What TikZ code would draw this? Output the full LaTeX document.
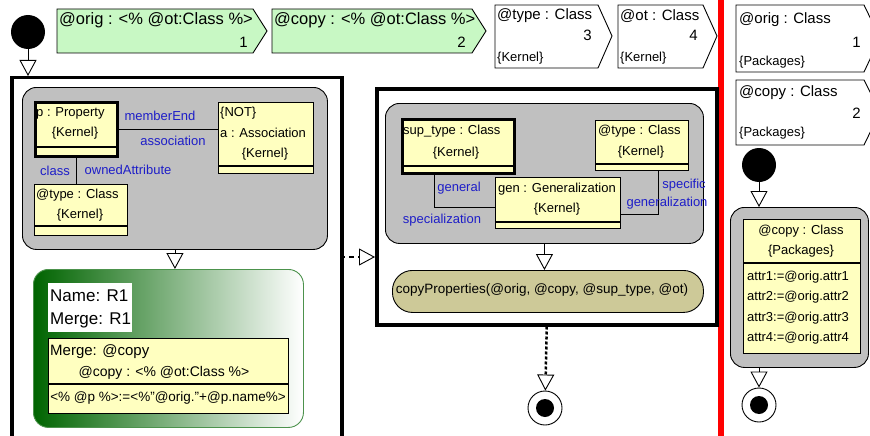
\documentclass[tikz,border=0pt]{standalone}
\usepackage{fontspec}
\setmainfont{Liberation Sans}
\usetikzlibrary{arrows.meta,positioning}
\definecolor{pingreen}{RGB}{200,248,196}
\definecolor{classyellow}{RGB}{255,255,192}
\definecolor{regiongray}{RGB}{192,192,192}
\definecolor{opolive}{RGB}{205,201,152}
\definecolor{linkblue}{RGB}{30,30,200}
\definecolor{rulegreen}{RGB}{0,100,0}
\begin{document}
\begin{tikzpicture}[x=1pt,y=-1pt,
    every node/.style={inner sep=0},
    big/.style={font=\fontsize{15}{15}\selectfont},
    txt/.style={font=\fontsize{13}{13}\selectfont},
    lbl/.style={font=\fontsize{13}{13}\selectfont,text=linkblue},
    frame/.style={draw,line width=3.5,anchor=north west},
    region/.style={draw,fill=regiongray,rounded corners=14,line width=0.9,anchor=north west},
    classbox/.style={draw,fill=classyellow,line width=0.9,anchor=north west},
    bound/.style={classbox,line width=3},
    pin/.style={draw,line width=0.9},
    initial/.style={circle,fill=black,minimum size=34},
    finalring/.style={circle,draw,fill=white,line width=0.9,minimum size=34},
    finaldot/.style={circle,fill=black,minimum size=18},
    flow/.style={-{Triangle[open,length=16,width=17,line width=0.9]},line width=0.9}]
  \useasboundingbox (0,0) rectangle (870,436);

  % parameter pins
  \draw[pin,fill=pingreen] (57,9) -- (253,9) -- (267,31) -- (253,53) -- (57,53) -- cycle;
  \draw[pin,fill=pingreen] (272,9) -- (472,9) -- (486,31) -- (472,53) -- (272,53) -- cycle;
  \draw[pin,fill=white] (495,5) -- (598,5) -- (612,36) -- (598,68) -- (495,68) -- cycle;
  \draw[pin,fill=white] (618,5) -- (703,5) -- (717,36) -- (703,68) -- (618,68) -- cycle;
  \draw[pin,fill=white] (736,5) -- (864,5) -- (880,38) -- (864,72) -- (736,72) -- cycle;
  \draw[pin,fill=white] (736,80) -- (864,80) -- (880,112) -- (864,145) -- (736,145) -- cycle;
  \draw[big]
    (59,20) node[anchor=west,font=\fontsize{16.5}{16.5}\selectfont] (origpin) {@orig : <\% @ot:Class \%>}
    (248,42) node[anchor=east] (orignum) {1}
    (274,20) node[anchor=west,font=\fontsize{16.5}{16.5}\selectfont] (copypin) {@copy : <\% @ot:Class \%>}
    (466,42) node[anchor=east] (copynum) {2}
    (497,16) node[anchor=west] (typepin) {@type : Class}
    (592,35) node[anchor=east] (typenum) {3}
    (620,16) node[anchor=west] (otpin) {@ot : Class}
    (698,35) node[anchor=east] (otnum) {4}
    (739,20) node[anchor=west] (origout) {@orig : Class}
    (861,42) node[anchor=east] (origoutnum) {1}
    (739,93) node[anchor=west] (copyout) {@copy : Class}
    (861,113) node[anchor=east] (copyoutnum) {2};
  \draw[txt]
    (497,58) node[anchor=west] (typepinkernel) {\{Kernel\}}
    (620,58) node[anchor=west] (otpinkernel) {\{Kernel\}}
    (739,62) node[anchor=west] (origoutpkg) {\{Packages\}}
    (739,133) node[anchor=west] (copyoutpkg) {\{Packages\}};

  % red separator
  \fill[red] (718,0) rectangle (724,436);

  % left activity: match
  \node[initial] (start) at (28,32) {};
  \node[frame,minimum width=330,minimum height=380] (leftact) at (10,76) {};
  \draw[flow] (start) -- (start |- leftact.north);
  \node[region,minimum width=305,minimum height=162] (lhs) at (22,87) {};
  \node[bound,minimum width=82,minimum height=54] (prop) at (34,101) {};
  \node[classbox,minimum width=95,minimum height=71] (assoc) at (218,102) {};
  \node[classbox,minimum width=93,minimum height=51] (typeA) at (34,184) {};
  \draw[line width=1.2] (prop.west |- 0,147) -- (prop.east |- 0,147);
  \draw[line width=1.2] (assoc.west |- 0,166) -- (assoc.east |- 0,166);
  \draw[line width=1.2] (typeA.west |- 0,226) -- (typeA.east |- 0,226);
  \draw[txt]
    (36,113) node[anchor=west] (propname) {p : Property}
    (75,133) node (propkernel) {\{Kernel\}}
    (220,113) node[anchor=west] (assocnot) {\{NOT\}}
    (220,133) node[anchor=west] (assocname) {a : Association}
    (265,154) node (assockernel) {\{Kernel\}}
    (36,195) node[anchor=west] (typeAname) {@type : Class}
    (80,215) node (typeAkernel) {\{Kernel\}};
  \draw[line width=0.9] (prop.east) -- (prop.east -| assoc.west);
  \draw[line width=0.9] (prop.south) -- (prop.south |- typeA.north);
  \draw[lbl]
    (160,116) node (memberend) {memberEnd}
    (173,141) node (association) {association}
    (55,171) node (classlbl) {class}
    (128,170) node (ownedattr) {ownedAttribute};

  % rule
  \node[draw=rulegreen!70,line width=0.9,rounded corners=15,left color=rulegreen,right color=white,
    anchor=north west,minimum width=270,minimum height=158] (rule) at (33,269) {};
  \draw[flow] (lhs.south) -- (lhs.south |- rule.north);
  \node[fill=white,anchor=north west,minimum width=84,minimum height=49] (rulename) at (48,283) {};
  \node[classbox,minimum width=240,minimum height=75] (mergebox) at (48,338) {};
  \draw[line width=1.2] (mergebox.west |- 0,384) -- (mergebox.east |- 0,384);
  \draw[font=\fontsize{17}{17}\selectfont]
    (50,296) node[anchor=west] (namelbl) {Name: R1}
    (50,320) node[anchor=west] (mergelbl) {Merge: R1};
  \draw
    (50,352) node[anchor=west,font=\fontsize{15}{15}\selectfont] (mergeobj) {Merge: @copy}
    (164,373) node[font=\fontsize{14}{14}\selectfont] (mergetype) {@copy : <\% @ot:Class \%>}
    (168,398) node[font=\fontsize{13.5}{13.5}\selectfont] (mergeattr) {<\% @p \%>:=<\%"@orig."+@p.name\%>};

  % left to middle
  \coordinate (seq) at (340,257);
  \node[frame,minimum width=340,minimum height=236] (midact) at (375,87) {};
  \draw[flow,line width=2,dash pattern=on 5pt off 4pt] (seq) -- (seq -| midact.west);

  % middle activity: specialization
  \node[region,minimum width=318,minimum height=140] (rhs) at (385,103) {};
  \node[bound,minimum width=112,minimum height=54] (suptype) at (401,118) {};
  \node[classbox,minimum width=93,minimum height=50] (typeB) at (595,120) {};
  \node[classbox,minimum width=125,minimum height=51] (gen) at (495,177) {};
  \draw[line width=1.2] (suptype.west |- 0,166) -- (suptype.east |- 0,166);
  \draw[line width=1.2] (typeB.west |- 0,164) -- (typeB.east |- 0,164);
  \draw[line width=1.2] (gen.west |- 0,222) -- (gen.east |- 0,222);
  \draw[txt]
    (403,131) node[anchor=west] (supname) {sup\_type : Class}
    (456,153) node (supkernel) {\{Kernel\}}
    (598,131) node[anchor=west] (typeBname) {@type : Class}
    (641,152) node (typeBkernel) {\{Kernel\}}
    (498,189) node[anchor=west] (genname) {gen : Generalization}
    (557,209) node (genkernel) {\{Kernel\}};
  \draw[line width=0.9] ([xshift=-24]suptype.south) |- ([yshift=-4.5]gen.west);
  \draw[line width=0.9] ([xshift=16]typeB.south) |- ([yshift=-11.5]gen.east);
  \draw[lbl]
    (459,188) node (generallbl) {general}
    (442,220) node (speclbl) {specialization}
    (684,185) node (specificlbl) {specific}
    (667,203) node (genlbl) {generalization};
  \node[draw,line width=0.9,fill=opolive,rounded corners=20,anchor=north west,
    minimum width=311,minimum height=42] (copyop) at (392,270) {};
  \node[font=\fontsize{13.5}{13.5}\selectfont] (copyoptext) at (542,290)
    {copyProperties(@orig, @copy, @sup\_type, @ot)};
  \draw[flow] (rhs.south) -- (rhs.south |- copyop.north);
  \node[finalring] (endM) at (545,408) {};
  \node[finaldot] (endMdot) at (endM) {};
  \draw[flow,line width=2.5,dash pattern=on 3pt off 2pt] (midact.south) -- (endM);

  % right activity: copy
  \node[initial] (startR) at (759,165) {};
  \node[region,minimum width=138,minimum height=160] (copyact) at (730,207) {};
  \draw[flow] (startR) -- (startR |- copyact.north);
  \node[classbox,minimum width=117,minimum height=134] (copyobj) at (743,219) {};
  \draw[line width=1.2] (copyobj.west |- 0,263) -- (copyobj.east |- 0,263);
  \draw[txt]
    (801,231) node (copyobjname) {@copy : Class}
    (801,251) node (copyobjpkg) {\{Packages\}}
    (747,277) node[anchor=west] (attra) {attr1:=@orig.attr1}
    (747,297) node[anchor=west] (attrb) {attr2:=@orig.attr2}
    (747,318) node[anchor=west] (attrc) {attr3:=@orig.attr3}
    (747,338) node[anchor=west] (attrd) {attr4:=@orig.attr4};
  \node[finalring] (endR) at (759,405) {};
  \node[finaldot] (endRdot) at (endR) {};
  \draw[flow] (copyact.south -| endR) -- (endR);
\end{tikzpicture}
\end{document}
